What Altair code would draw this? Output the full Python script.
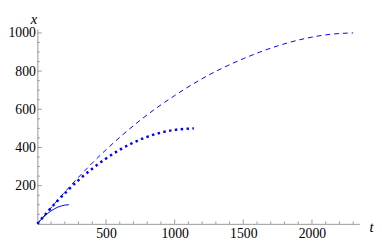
import altair as alt
import pandas as pd

# Curve data
solid_t = [0, 25, 50, 75, 100, 125, 150, 175, 200, 230]
solid_x = [0, 21, 39, 55, 68, 79, 88, 94, 98, 100]

dotted_t = [0, 100, 200, 300, 400, 500, 600, 700, 800, 900, 1000, 1140]
dotted_x = [0, 84, 160, 229, 289, 342, 388, 426, 456, 478, 492, 500]

dashed_t = [0, 250, 500, 750, 1000, 1250, 1500, 1750, 2000, 2150, 2300]
dashed_x = [0, 206, 388, 543, 672, 780, 865, 932, 978, 994, 1000]

x_major = [500, 1000, 1500, 2000]
x_minor = [v for v in range(100, 2400, 100) if v not in x_major]
y_major = [200, 400, 600, 800, 1000]
y_minor = [v for v in range(50, 1001, 50) if v not in y_major]

W, H = 329, 199
T_MAX, X_MAX = 2345, 1020
SERIF = "Liberation Serif"

xs = alt.Scale(domain=[0, T_MAX], nice=False, zero=False)
ys = alt.Scale(domain=[0, X_MAX], nice=False, zero=False)

x_axis = alt.Axis(
    values=x_major, format="d", labelPadding=3,
    title="t", titleX=W + 12, titleY=3, titleBaseline="middle",
    titleAlign="center")
y_axis = alt.Axis(
    values=y_major, format="d", labelPadding=2,
    title="x", titleAngle=0, titleX=-4, titleY=-11, titleBaseline="middle",
    titleAlign="center")

X = lambda: alt.X("t:Q", scale=xs, axis=x_axis)
Y = lambda: alt.Y("x:Q", scale=ys, axis=y_axis)

def curve(ts, xv, dash, width):
    df = pd.DataFrame({"t": ts, "x": xv})
    props = dict(color="#0000ff", strokeWidth=width, interpolate="monotone",
                 strokeCap="butt", clip=False)
    if dash:
        props["strokeDash"] = dash
    return alt.Chart(df).mark_line(**props).encode(x=X(), y=Y())

def xticks(vals, length):
    df = pd.DataFrame({"t": vals})
    return alt.Chart(df).mark_rule(color="#999999", strokeWidth=1).encode(
        x=X(), y=alt.value(H), y2=alt.value(H - length))

def yticks(vals, length):
    df = pd.DataFrame({"x": vals})
    return alt.Chart(df).mark_rule(color="#999999", strokeWidth=1).encode(
        y=Y(), x=alt.value(0), x2=alt.value(length))

base_df = pd.DataFrame({"t": [0, T_MAX], "x": [0, X_MAX]})
axes = alt.Chart(base_df).mark_point(opacity=0).encode(x=X(), y=Y())

chart = alt.layer(
    axes,
    xticks(x_major, 4.5), xticks(x_minor, 2.5),
    yticks(y_major, 4.5), yticks(y_minor, 2.5),
    curve(solid_t, solid_x, None, 1),
    curve(dotted_t, dotted_x, [2.5, 3.5], 2.5),
    curve(dashed_t, dashed_x, [5, 4], 1),
).properties(
    width=W, height=H,
    autosize=alt.AutoSizeParams(type="none"),
    padding={"left": 30, "top": 19, "right": 15, "bottom": 17},
).configure(font=SERIF).configure_view(stroke=None).configure_axis(
    ticks=False, grid=False, domainColor="#999999", domainWidth=1,
    labelFont=SERIF, labelFontSize=14, labelColor="#000000",
    titleFont=SERIF, titleFontStyle="italic", titleFontWeight="normal",
    titleFontSize=15, titleColor="#000000",
)

chart.save("out.html", embed_options={"renderer": "svg", "actions": False})
